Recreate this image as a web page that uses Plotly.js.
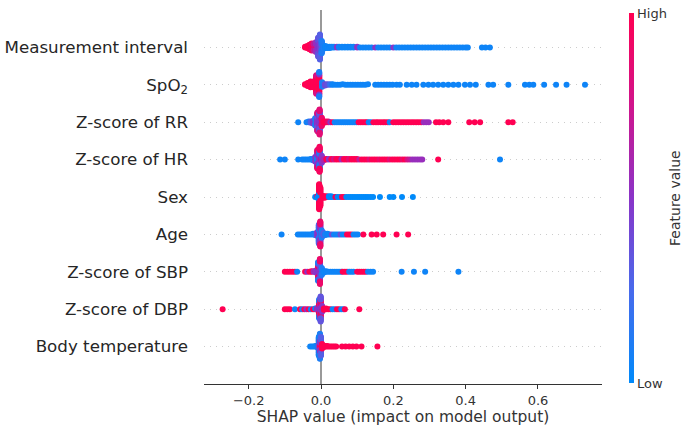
<!DOCTYPE html>
<html>
<head>
<meta charset="utf-8">
<script src="https://cdn.plot.ly/plotly-3.0.1.min.js"></script>
<style>html,body{margin:0;padding:0;background:#fff;}#chart{width:685px;height:429px;}</style>
</head>
<body>
<div id="chart"></div>
<script>
// Feature names, top to bottom
const featureLabels = ['Measurement interval','SpO<sub>2</sub>','Z-score of RR','Z-score of HR','Sex','Age','Z-score of SBP','Z-score of DBP','Body temperature'];
const colorbarTicks = ['Low','High'];
const colorbarTitle = 'Feature value';
const xTitle = 'SHAP value (impact on model output)';

// For every feature: SHAP values (x), number of samples at that value (n, single dots where omitted), feature value 0=low..1=high (c)
const mi_x = [-0.044,-0.038,-0.032,-0.026,-0.020,-0.020,-0.014,-0.014,-0.008,-0.008,-0.003,-0.003,0.002,0.002,0.007,0.012,0.018,0.024,0.030,0.036,0.044,0.050,0.058,0.066,0.074,0.082,0.090,0.100,0.108,0.116,0.124,0.132,0.140,0.150,0.158,0.166,0.174,0.182,0.190,0.200,0.208,0.216,0.224,0.232,0.240,0.248,0.256,0.264,0.272,0.280,0.288,0.296,0.304,0.312,0.320,0.328,0.336,0.344,0.352,0.360,0.368,0.376,0.384,0.392,0.400,0.406,0.445,0.455,0.467];
const mi_n = [2,4,8,12,8,4,8,8,20,10,24,16,10,10,5,4,3,3,2,2,2,2,2,2,2,2,2,2];
const mi_c = [1,1,1,0.95,0.95,0.7,0.9,0.55,0.5,0.35,0.45,0.3,0.3,0.1,0.1,0.05,0.05,0.05,0.05,0.05,0.5,0.05,0.05,0.05,0.05,0.05,0.05,0.5,0.05,0.05,0.05,0.05,0.05,0.5,0.05,0.05,0.05,0.05,0.05,0.5,0.05,0.05,0.05,0.05,0.05,0.05,0.05,0.05,0.05,0.05,0.05,0.05,0.05,0.05,0.05,0.05,0.05,0.05,0.05,0.05,0.05,0.05,0.05,0.05,0.05,0.05,0.05,0.05,0.05];

const sp_x = [-0.044,-0.037,-0.029,-0.021,-0.013,-0.013,-0.005,-0.005,-0.005,0.003,0.003,0.011,0.018,0.025,0.032,0.039,0.046,0.053,0.060,0.067,0.074,0.081,0.088,0.095,0.102,0.109,0.116,0.123,0.130,0.150,0.158,0.166,0.174,0.182,0.190,0.198,0.209,0.218,0.237,0.251,0.264,0.283,0.297,0.310,0.324,0.338,0.352,0.366,0.380,0.398,0.412,0.428,0.463,0.476,0.518,0.564,0.576,0.587,0.617,0.650,0.679,0.730];
const sp_n = [2,6,10,10,26,4,30,6,4,4,4,3,2,2,2];
const sp_c = [1,1,1,1,1,0.8,1,0.5,0.1,0.5,0.1,0.4,0.35,0.2,0.05,0.05,0.05,0.05,0.05,0.05,0.05,0.05,0.05,0.05,0.05,0.05,0.05,0.05,0.05,0.05,0.05,0.05,0.05,0.05,0.05,0.05,0.05,0.05,0.05,0.05,0.05,0.05,0.05,0.05,0.05,0.05,0.05,0.05,0.05,0.05,0.05,0.05,0.05,0.05,0.05,0.05,0.05,0.05,0.05,0.05,0.05,0.05];

const rr_x = [-0.063,-0.040,-0.034,-0.028,-0.022,-0.022,-0.016,-0.016,-0.010,-0.010,-0.010,-0.004,-0.004,-0.004,0.002,0.002,0.008,0.014,0.020,0.026,0.032,0.038,0.044,0.050,0.056,0.062,0.068,0.074,0.080,0.086,0.092,0.098,0.104,0.110,0.116,0.122,0.127,0.132,0.138,0.145,0.152,0.158,0.165,0.172,0.178,0.185,0.190,0.200,0.207,0.214,0.221,0.228,0.235,0.242,0.249,0.256,0.263,0.270,0.277,0.284,0.291,0.298,0.318,0.327,0.338,0.352,0.410,0.425,0.440,0.518,0.530];
const rr_n = [1,1,2,3,3,2,6,6,15,10,5,20,12,8,6,8,3,2,2];
const rr_c = [0.05,0.05,0.1,0.3,0.05,0.5,0.5,0.1,0.5,0.3,0.8,0.5,0.35,0.85,0.5,0.9,1,1,0.9,0.5,1,0.05,0.05,0.05,0.05,0.05,0.05,0.05,0.05,0.05,0.05,0.05,1,1,1,1,1,0.05,0.05,1,1,1,1,1,1,1,0.05,1,1,1,1,1,1,1,1,1,1,1,1,0.55,0.55,0.55,1,1,1,1,1,1,1,1,1];

const hr_x = [-0.113,-0.100,-0.063,-0.052,-0.046,-0.040,-0.034,-0.028,-0.022,-0.016,-0.016,-0.010,-0.010,-0.010,-0.004,-0.004,-0.004,0.002,0.002,0.008,0.015,0.022,0.029,0.036,0.043,0.050,0.057,0.064,0.071,0.078,0.085,0.092,0.099,0.106,0.113,0.120,0.127,0.134,0.141,0.148,0.155,0.162,0.169,0.176,0.183,0.190,0.197,0.204,0.211,0.218,0.225,0.232,0.239,0.246,0.253,0.260,0.267,0.274,0.280,0.324,0.495];
const hr_n = [1,1,1,1,1,1,1,2,3,6,2,12,12,6,16,12,12,6,6,3,2,2,2,2,2,2,2,2,2,2,2,2,2];
const hr_c = [0.05,0.05,0.05,0.05,0.05,0.05,0.05,0.05,0.1,0.05,0.5,0.1,0.5,0.9,0.5,0.1,0.95,0.9,0.5,0.6,1,0.5,1,0.8,1,1,0.6,1,1,0.85,1,1,1,0.7,1,1,1,0.85,1,1,1,0.9,1,1,1,0.85,1,1,1,1,0.9,1,0.8,0.7,0.55,0.55,0.55,0.55,0.55,1,0.05];

const sx_x = [-0.016,-0.010,-0.010,-0.005,-0.005,-0.002,-0.002,0.004,0.004,0.010,0.016,0.022,0.028,0.034,0.040,0.046,0.052,0.058,0.064,0.070,0.076,0.082,0.088,0.094,0.100,0.106,0.112,0.118,0.124,0.130,0.137,0.144,0.163,0.190,0.200,0.224,0.254];
const sx_n = [1,2,1,16,24,12,18,2,2,3,2,2,2];
const sx_c = [0,1,0,0,1,0,1,0,1,1,1,0,0,0,1,0,0,1,1,0,0,0,0,0,0,0,0,0,0,0,0,0,0,0,0,0,0];

const ag_x = [-0.109,-0.064,-0.058,-0.052,-0.046,-0.040,-0.034,-0.028,-0.022,-0.016,-0.011,-0.011,-0.006,-0.006,-0.006,-0.002,-0.002,-0.002,0.002,0.002,0.007,0.012,0.018,0.024,0.030,0.036,0.042,0.048,0.054,0.060,0.066,0.072,0.078,0.084,0.090,0.096,0.102,0.117,0.140,0.154,0.172,0.209,0.241];
const ag_n = [1,1,1,1,1,1,1,1,2,3,4,2,12,12,6,14,16,10,6,6,4,3,2];
const ag_c = [0.05,0.05,0.05,0.05,0.05,0.05,0.05,0.05,0.05,0.1,0.05,0.5,0.5,0.1,0.3,0.1,0.5,0.9,0.5,0.1,0.3,0.1,0.05,0.05,0.4,0.05,0.05,0.05,0.4,0.05,0.05,1,1,1,0.05,0.05,0.05,1,1,1,1,1,1];

const sb_x = [-0.100,-0.093,-0.086,-0.079,-0.072,-0.066,-0.044,-0.038,-0.032,-0.026,-0.020,-0.014,-0.014,-0.008,-0.008,-0.008,-0.003,-0.003,-0.003,0.002,0.002,0.008,0.014,0.020,0.026,0.032,0.038,0.044,0.050,0.056,0.060,0.066,0.072,0.078,0.084,0.090,0.100,0.106,0.112,0.118,0.124,0.130,0.137,0.144,0.223,0.257,0.288,0.380];
const sb_n = [1,1,1,1,1,1,1,1,1,2,2,2,2,15,8,7,20,10,10,6,6,3,2];
const sb_c = [1,1,1,1,1,0.05,1,0.5,1,1,0.55,1,0.5,0.5,0.95,0.1,0.5,0.35,0.9,0.5,0.1,0.05,0.05,0.05,0.05,0.05,0.05,0.05,0.05,0.05,1,1,1,0.05,0.05,0.05,1,1,1,1,1,0.05,0.05,0.05,0.05,0.05,0.05,0.05];

const db_x = [-0.272,-0.100,-0.093,-0.086,-0.072,-0.058,-0.052,-0.046,-0.040,-0.034,-0.028,-0.022,-0.016,-0.016,-0.010,-0.010,-0.005,-0.005,-0.005,-0.001,-0.001,-0.001,0.003,0.003,0.008,0.014,0.020,0.026,0.032,0.038,0.044,0.050,0.056,0.062,0.066,0.106];
const db_n = [1,1,1,1,1,1,1,1,1,1,1,1,1,1,2,2,12,10,8,16,12,12,5,5,3,2];
const db_c = [1,1,1,1,0.05,1,0.05,1,0.5,1,0.05,1,1,0.05,1,0.5,0.5,1,0.1,0.5,0.9,0.35,1,0.5,1,1,1,1,0.05,0.05,1,1,0.05,0.05,1,1];

const bt_x = [-0.030,-0.025,-0.020,-0.015,-0.010,-0.006,-0.006,-0.003,-0.003,-0.003,0.000,0.000,0.000,0.003,0.007,0.012,0.017,0.022,0.027,0.032,0.037,0.042,0.058,0.068,0.078,0.088,0.098,0.112,0.156];
const bt_n = [1,1,1,2,3,14,16,10,16,14,8,12,10,8,3,2,2];
const bt_c = [0.05,0.05,0.05,0.05,0.05,0.35,0.05,0.9,0.5,0.1,0.95,0.5,0.3,1,1,1,1,1,1,1,1,1,1,1,1,1,1,1,1];

const featureData = [[mi_x,mi_n,mi_c],[sp_x,sp_n,sp_c],[rr_x,rr_n,rr_c],[hr_x,hr_n,hr_c],[sx_x,sx_n,sx_c],[ag_x,ag_n,ag_c],[sb_x,sb_n,sb_c],[db_x,db_n,db_c],[bt_x,bt_n,bt_c]];

// beeswarm layout (same binning/stacking idea as shap's summary plot)
function swarm(xs){
  const N = xs.length, nbins = 100;
  const mn = Math.min(...xs), mx = Math.max(...xs);
  const q = xs.map(v => Math.round(nbins*(v-mn)/(mx-mn+1e-8)));
  const idx = [...Array(N).keys()].sort((a,b) => (q[a]-q[b]) || (a-b));
  const ys = new Array(N).fill(0);
  let layer = 0, last = -1;
  for (const i of idx){
    if (q[i] !== last) layer = 0;
    ys[i] = Math.ceil(layer/2) * ((layer%2)*2-1);
    layer++; last = q[i];
  }
  const m = Math.max(...ys.map(y => y+1));
  return ys.map(y => y*0.9*0.4/m);
}

const X = [], Y = [], C = [];
const nRows = featureLabels.length;
featureData.forEach((d,k) => {
  const [xs, ns, cs] = d;
  const px = [], pc = [];
  xs.forEach((v,i) => { const n = ns[i] ?? 1; for (let j=0;j<n;j++){ px.push(v); pc.push(cs[i]); } });
  const off = swarm(px);
  const pos = nRows-1-k;
  px.forEach((v,i) => { X.push(v); Y.push(pos+off[i]); C.push(pc[i]); });
});

const FONT = 'DejaVu Sans, Liberation Sans, sans-serif';
const trace = {
  type:'scatter', mode:'markers', x:X, y:Y, hoverinfo:'skip',
  marker:{
    size:6, color:C, cmin:0, cmax:1, line:{width:0},
    colorscale:[[0,'rgb(0,138,250)'],[0.25,'rgb(72,106,236)'],[0.5,'rgb(138,52,200)'],[0.75,'rgb(208,20,140)'],[1,'rgb(255,0,82)']],
    showscale:true,
    colorbar:{
      x:1.068, xanchor:'left', xpad:0, y:0.497, yanchor:'middle', ypad:0,
      thickness:5, thicknessmode:'pixels', len:370, lenmode:'pixels',
      outlinewidth:0, tickvals:[0,1], ticktext:colorbarTicks, ticks:'', ticklen:0,
      tickfont:{family:FONT, size:13, color:'#333333'}
    }
  }
};

const layout = {
  width:685, height:429,
  margin:{l:204, r:83, t:10, b:45, autoexpand:false},
  paper_bgcolor:'#ffffff', plot_bgcolor:'#ffffff',
  showlegend:false,
  font:{family:FONT, color:'#333333'},
  xaxis:{
    range:[-0.3235,0.777], showgrid:false,
    zeroline:true, zerolinecolor:'#999999', zerolinewidth:1.5,
    showline:true, linecolor:'#333333', linewidth:1,
    ticks:'outside', ticklen:4, tickcolor:'#333333', tickwidth:1,
    tickvals:[-0.2,0,0.2,0.4,0.6], tickformat:'.1f',
    tickfont:{family:FONT, size:13, color:'#333333'},
    title:{text:xTitle, font:{family:FONT, size:15.5, color:'#333333'}, standoff:3},
    automargin:false
  },
  yaxis:{
    range:[-1,9], tickvals:[8,7,6,5,4,3,2,1,0], ticktext:featureLabels,
    showgrid:true, gridcolor:'#cccccc', gridwidth:1, griddash:'1px,5px',
    zeroline:false, showline:false, ticks:'', ticklabelstandoff:15,
    tickfont:{family:FONT, size:16.7, color:'#262626'}, automargin:false
  },
  annotations:[{
    text:colorbarTitle, textangle:-90, xref:'paper', yref:'paper',
    x:1.183, y:0.497, xanchor:'center', yanchor:'middle', showarrow:false,
    font:{family:FONT, size:14, color:'#333333'}
  }]
};

Plotly.newPlot('chart',[trace],layout,{displayModeBar:false, staticPlot:true});
</script>
</body>
</html>
